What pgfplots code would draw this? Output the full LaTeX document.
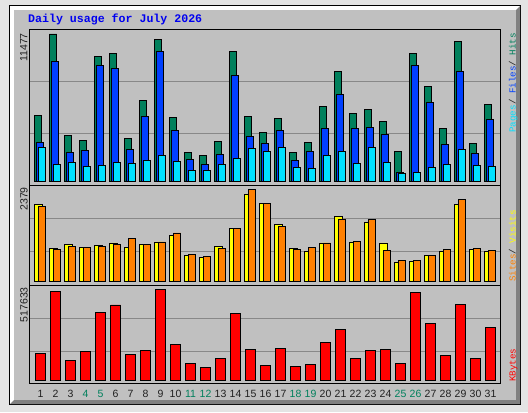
\documentclass[border=0pt]{standalone}
\usepackage{pgfplots}
\pgfplotsset{compat=1.18}
\usepackage{pgfplotstable}
\usepackage{fontspec}
\setmainfont{Liberation Sans}
\newfontfamily\monofont{Liberation Mono}
\definecolor{hits}{HTML}{00805C}
\definecolor{files}{HTML}{0040FF}
\definecolor{pages}{HTML}{00E0FF}
\definecolor{visits}{HTML}{FFFF00}
\definecolor{sites}{HTML}{FF8000}
\definecolor{kbytes}{HTML}{FF0000}
\definecolor{panel}{HTML}{C0C0C0}
\definecolor{outerbg}{HTML}{E4E4E4}
\definecolor{shadow}{HTML}{808080}
\definecolor{gridgray}{HTML}{888888}
\definecolor{txt}{HTML}{202020}
\definecolor{wk}{HTML}{00805C}
\definecolor{title}{HTML}{0000F0}

\pgfplotstableread{
day hits files pages
1 5181 3083 2694
2 11477 9378 1373
3 3627 2280 1503
4 3238 2461 1218
5 9767 9067 1295
6 10000 8808 1503
7 3394 2539 1451
8 6347 5104 1684
9 11088 10156 2073
10 5026 4016 1580
11 2306 1736 907
12 2021 1373 907
13 3161 2150 1373
14 10156 8290 1839
15 5104 3497 2617
16 3860 2979 2358
17 4948 4016 2694
18 2280 1684 1114
19 3083 2358 1036
20 5881 4145 2073
21 8601 6788 2358
22 5311 4145 1451
23 5648 4249 2694
24 4715 3679 1503
25 2383 751 674
26 10000 9067 751
27 7435 6192 1140
28 4171 2902 1373
29 10933 8601 2513
30 2979 2202 1269
31 6010 4845 1218
}\toptab

\pgfplotstableread{
day visits sites
1 1998 1946
2 848 822
3 952 900
4 874 874
5 926 900
6 986 952
7 874 1107
8 952 952
9 1012 1012
10 1185 1246
11 666 692
12 614 640
13 900 848
14 1367 1367
15 2258 2379
16 2016 2016
17 1479 1419
18 848 822
19 779 874
20 986 986
21 1678 1609
22 1012 1029
23 1531 1600
24 986 796
25 493 536
26 519 536
27 666 666
28 779 822
29 1998 2120
30 822 848
31 779 796
}\midtab

\pgfplotstableread{
day kbytes
1 153584
2 506259
3 113766
4 164961
5 386804
6 428519
7 147896
8 170649
9 517633
10 204779
11 96701
12 73948
13 125143
14 381116
15 176337
16 85325
17 182026
18 79636
19 91013
20 216155
21 290103
22 125143
23 170649
24 176337
25 96701
26 500570
27 324233
28 142208
29 432311
30 125143
31 301480
}\bottab

\pgfplotsset{
  webal/.style={
    scale only axis, width=471bp,
    xmin=0.2333, xmax=31.633,
    xtick=\empty, yticklabels={},
    scaled y ticks=false, scaled x ticks=false,
    ymajorgrids, grid style={draw=gridgray, line width=1bp},
    axis line style={draw=black, line width=1bp},
    major tick length=0pt,
    every axis plot/.append style={draw=black, line width=0.9bp},
  }
}

\begin{document}
\begin{tikzpicture}[x=1bp,y=1bp]
\fill[outerbg] (0,0) rectangle (528,412);
\fill[black] (9,7) rectangle (521,407);
\fill[white] (10,8) rectangle (520,406);
\fill[shadow] (10,8) -- (520,8) -- (520,406) -- (516,402) -- (516,12) -- (14,12) -- cycle;
\fill[panel] (14,12) rectangle (516,402);

\node[anchor=base west, inner sep=0pt, text=title, font=\monofont\bfseries\fontsize{11.6bp}{12bp}\selectfont] at (28,389) {Daily usage for July 2026};

% top panel
\begin{axis}[webal, at={(29bp,227bp)}, anchor=south west, height=155bp,
  ymin=-256, ymax=11788, ytick={3761,7770}]
\addplot[ybar, bar width=7.5bp, bar shift=-2.5bp, fill=hits] table[x=day,y=hits]{\toptab};
\addplot[ybar, bar width=7.5bp, bar shift=-0.5bp, fill=files] table[x=day,y=files]{\toptab};
\addplot[ybar, bar width=7.5bp, bar shift=1.5bp, fill=pages] table[x=day,y=pages]{\toptab};
\end{axis}

% middle panel
\begin{axis}[webal, at={(29bp,127bp)}, anchor=south west, height=100bp,
  ymin=-104, ymax=2491, ytick={760,1626}]
\addplot[ybar, bar width=8bp, bar shift=-2bp, fill=visits] table[x=day,y=visits]{\midtab};
\addplot[ybar, bar width=7.5bp, bar shift=1.5bp, fill=sites] table[x=day,y=sites]{\midtab};
\end{axis}

% bottom panel
\begin{axis}[webal, at={(29bp,28.7bp)}, anchor=south west, height=98.3bp,
  ymin=-17064, ymax=542091, ytick={162677,352656},
  xtick={1,...,31},
  xticklabels={1,2,3,\textcolor{wk}{4},\textcolor{wk}{5},6,7,8,9,10,\textcolor{wk}{11},\textcolor{wk}{12},13,14,15,16,17,\textcolor{wk}{18},\textcolor{wk}{19},20,21,22,23,24,\textcolor{wk}{25},\textcolor{wk}{26},27,28,29,30,31},
  xticklabel style={font=\fontsize{10.5bp}{11bp}\selectfont, text=txt, inner sep=0pt, anchor=north, yshift=-6.5bp}]
\addplot[ybar, bar width=10bp, bar shift=0bp, fill=kbytes] table[x=day,y=kbytes]{\bottab};
\end{axis}

% y max labels
\begin{scope}[every node/.style={rotate=90, inner sep=0pt, text=txt, font=\fontsize{10.5bp}{11bp}\selectfont}]
\node[anchor=north east] at (20,379) {11477};
\node[anchor=north east] at (20,225) {2379};
\node[anchor=north east] at (20,125) {517633};
\end{scope}

% right labels
\begin{scope}[every node/.style={rotate=90, inner sep=0pt, font=\monofont\fontsize{9.2bp}{10bp}\selectfont}]
\node[anchor=mid east] at (513,379) {\textcolor{pages}{Pages}\textcolor{txt}{ / }\textcolor{files}{Files}\textcolor{txt}{ / }\textcolor{hits}{Hits}};
\node[anchor=mid west] at (513,130) {\textcolor{sites}{Sites}\textcolor{txt}{ / }\textcolor{visits}{Visits}};
\node[anchor=mid west] at (513,30) {\textcolor{kbytes}{KBytes}};
\end{scope}
\end{tikzpicture}
\end{document}
